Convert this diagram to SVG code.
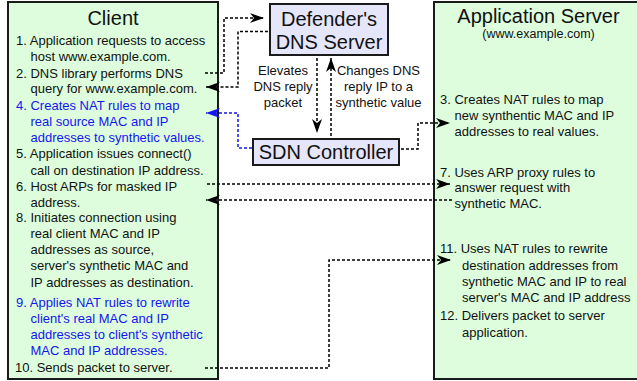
<svg xmlns="http://www.w3.org/2000/svg" width="637" height="381" viewBox="0 0 637 381">
<defs>
<style>
text{font-family:"Liberation Sans",Arial,sans-serif;fill:#111}
.t{font-size:13px}
.h{font-size:20px;text-anchor:middle}
.c{font-size:13px;text-anchor:middle}
.s{font-size:12.5px;text-anchor:middle}
.b{fill:#1515f0}
.panel{fill:#ddfddd;stroke:#1a1a1a;stroke-width:2}
.proc{fill:#e6e6fa;stroke:#1a1a1a;stroke-width:2}
.con{fill:none;stroke:#000;stroke-width:1.5;stroke-dasharray:3 2}
.blue{stroke:#1515f0}
</style>
<marker id="ah" viewBox="0 0 14 10" refX="14" refY="5" markerWidth="14" markerHeight="10" markerUnits="userSpaceOnUse" orient="auto">
<path d="M0,0 L14,5 L0,10 L4,5 Z" fill="#000"/>
</marker>
<marker id="ahb" viewBox="0 0 14 10" refX="14" refY="5" markerWidth="14" markerHeight="10" markerUnits="userSpaceOnUse" orient="auto">
<path d="M0,0 L14,5 L0,10 L4,5 Z" fill="#1515f0"/>
</marker>
</defs>

<g id="client">
<rect class="panel" x="8" y="2" width="210" height="377"/>
<text class="h" x="113" y="25">Client</text>
<text class="t" x="16" y="44.5">1. Application requests to access</text>
<text class="t" x="30.5" y="61">host www.example.com.</text>
<text class="t" x="16" y="77.5">2. DNS library performs DNS</text>
<text class="t" x="30.5" y="93">query for www.example.com.</text>
<text class="t b" x="16" y="110">4. Creates NAT rules to map</text>
<text class="t b" x="30.5" y="125.5">real source MAC and IP</text>
<text class="t b" x="30.5" y="142">addresses to synthetic values.</text>
<text class="t" x="16" y="158">5. Application issues connect()</text>
<text class="t" x="30.5" y="175">call on destination IP address.</text>
<text class="t" x="16" y="191">6. Host ARPs for masked IP</text>
<text class="t" x="30.5" y="207">address.</text>
<text class="t" x="16" y="222">8. Initiates connection using</text>
<text class="t" x="30.5" y="237.5">real client MAC and IP</text>
<text class="t" x="30.5" y="253.5">addresses as source,</text>
<text class="t" x="30.5" y="270">server's synthetic MAC and</text>
<text class="t" x="30.5" y="287">IP addresses as destination.</text>
<text class="t b" x="16" y="307">9. Applies NAT rules to rewrite</text>
<text class="t b" x="30.5" y="323">client's real MAC and IP</text>
<text class="t b" x="30.5" y="339">addresses to client's synthetic</text>
<text class="t b" x="30.5" y="355">MAC and IP addresses.</text>
<text class="t" x="15" y="372">10. Sends packet to server.</text>
</g>

<g id="server">
<rect class="panel" x="434" y="2" width="212" height="377"/>
<text class="h" x="538.5" y="22.5">Application Server</text>
<text class="s" x="538.5" y="37.5">(www.example.com)</text>
<text class="t" x="440" y="104">3. Creates NAT rules to map</text>
<text class="t" x="454.5" y="120">new synthentic MAC and IP</text>
<text class="t" x="454.5" y="135.5">addresses to real values.</text>
<text class="t" x="440" y="177">7. Uses ARP proxy rules to</text>
<text class="t" x="454.5" y="191.5">answer request with</text>
<text class="t" x="454.5" y="208">synthetic MAC.</text>
<text class="t" x="440" y="253">11. Uses NAT rules to rewrite</text>
<text class="t" x="462" y="270">destination addresses from</text>
<text class="t" x="462" y="285.5">synthetic MAC and IP to real</text>
<text class="t" x="462" y="302">server's MAC and IP address</text>
<text class="t" x="440" y="320">12. Delivers packet to server</text>
<text class="t" x="462" y="337">application.</text>
</g>

<g id="dns">
<rect class="proc" x="270" y="4" width="118" height="51"/>
<text class="h" x="329" y="26">Defender's</text>
<text class="h" x="329" y="49">DNS Server</text>
</g>

<g id="sdn">
<rect class="proc" x="253" y="139" width="146" height="26"/>
<text class="h" x="326" y="159">SDN Controller</text>
</g>

<g id="labels">
<text class="c" x="283" y="75">Elevates</text>
<text class="c" x="283" y="91">DNS reply</text>
<text class="c" x="283" y="107">packet</text>
<text class="c" x="378.5" y="75">Changes DNS</text>
<text class="c" x="378.5" y="91">reply IP to a</text>
<text class="c" x="378.5" y="107">synthetic value</text>
</g>

<g id="connectors">
<path class="con" d="M205,73 H224 V18 H264" marker-end="url(#ah)"/>
<path class="con" d="M268,31.5 H238 V87 H206" marker-end="url(#ah)"/>
<path class="con blue" d="M252,148 H238 V113 H206" marker-end="url(#ahb)"/>
<path class="con" d="M317,58 V133" marker-end="url(#ah)"/>
<path class="con" d="M331,136 V58" marker-end="url(#ah)"/>
<path class="con" d="M401,149 H418 V123 H450" marker-end="url(#ah)"/>
<path class="con" d="M207,184 H450" marker-end="url(#ah)"/>
<path class="con" d="M452,200 H206" marker-end="url(#ah)"/>
<path class="con" d="M205,368 H329 V260 H451" marker-end="url(#ah)"/>
</g>
</svg>
